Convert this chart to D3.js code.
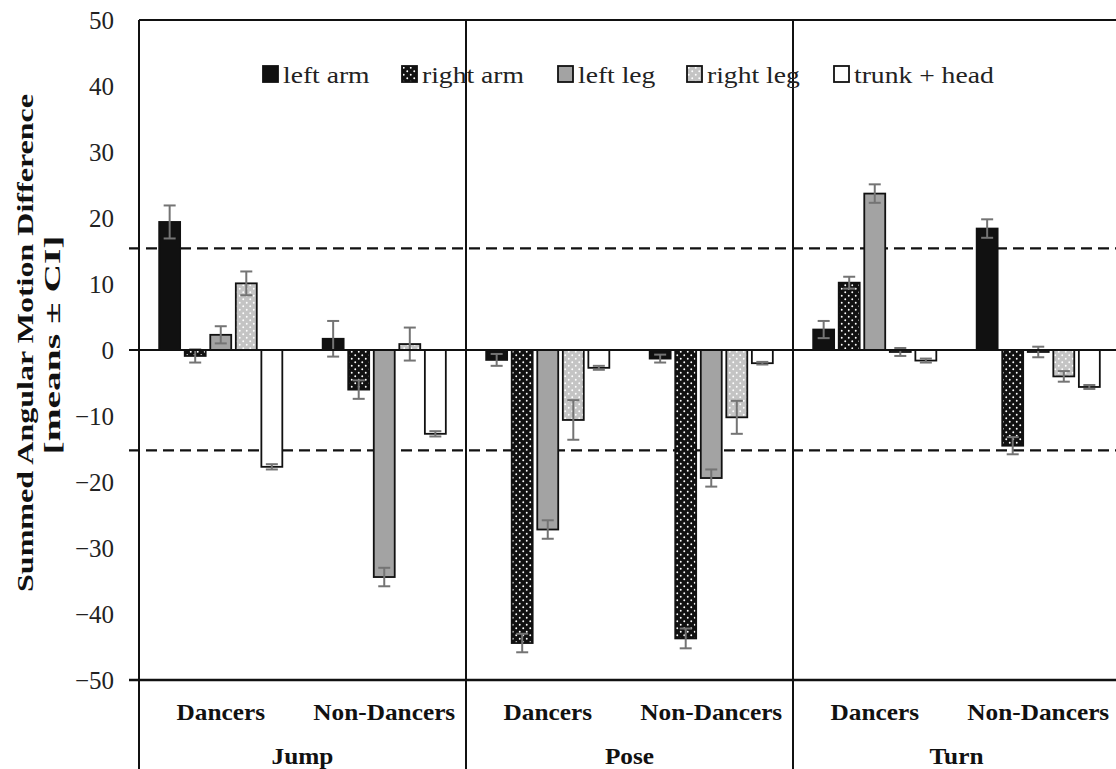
<!DOCTYPE html>
<html>
<head>
<meta charset="utf-8">
<script src="https://cdn.jsdelivr.net/npm/d3@7"></script>
<style>
  html, body { margin: 0; padding: 0; background: #fff; }
  svg { display: block; }
</style>
</head>
<body>
<svg id="chart" width="1116" height="769" font-family="Liberation Serif"></svg>
<script>
// movements and groups, in drawing order
var movements = ["Jump", "Pose", "Turn"];
var groups = ["Dancers", "Non-Dancers"];
var seriesNames = ["left arm", "right arm", "left leg", "right leg", "trunk + head"];

// values per cell: Jump-D, Jump-ND, Pose-D, Pose-ND, Turn-D, Turn-ND
var leftArm   = [19.4, 1.7, -1.5, -1.3, 3.1, 18.4];
var rightArm  = [-0.9, -6.0, -44.4, -43.7, 10.2, -14.5];
var leftLeg   = [2.3, -34.4, -27.2, -19.4, 23.7, -0.3];
var rightLeg  = [10.1, 0.9, -10.6, -10.2, -0.3, -4.0];
var trunkHead = [-17.7, -12.7, -2.7, -2.0, -1.6, -5.6];

// confidence intervals (half width)
var leftArmCI   = [2.5, 2.7, 0.9, 0.6, 1.3, 1.4];
var rightArmCI  = [1.0, 1.4, 1.4, 1.5, 0.9, 1.3];
var leftLegCI   = [1.3, 1.4, 1.4, 1.3, 1.4, 0.8];
var rightLegCI  = [1.8, 2.5, 3.0, 2.5, 0.6, 0.8];
var trunkHeadCI = [0.4, 0.4, 0.3, 0.2, 0.3, 0.3];

var thresholds = [15.4, -15.2];
var yTicks = [50, 40, 30, 20, 10, 0, -10, -20, -30, -40, -50];

(function draw() {
  var values = [leftArm, rightArm, leftLeg, rightLeg, trunkHead];
  var cis = [leftArmCI, rightArmCI, leftLegCI, rightLegCI, trunkHeadCI];
  var fontName = "Liberation Serif";

  var svg = d3.select("#chart");
  var mLeft = 139, mRight = 1120, mTop = 20, mBottom = 680;

  var y = d3.scaleLinear().domain([-50, 50]).range([mBottom, mTop]);
  var x0 = d3.scaleBand().domain(movements).range([mLeft, mRight]);
  var x1 = d3.scaleBand().domain(groups).range([0, x0.bandwidth()]);
  var x2 = d3.scaleBand().domain(seriesNames).range([0, x1.bandwidth()])
    .paddingInner(0.18).paddingOuter(0.79);

  // patterns
  var defs = svg.append("defs");
  function dots(id, bg) {
    var p = defs.append("pattern").attr("id", id)
      .attr("patternUnits", "userSpaceOnUse").attr("width", 7).attr("height", 7);
    p.append("rect").attr("width", 7).attr("height", 7).attr("fill", bg);
    p.append("circle").attr("cx", 1.75).attr("cy", 1.75).attr("r", 0.95).attr("fill", "#fff");
    p.append("circle").attr("cx", 5.25).attr("cy", 5.25).attr("r", 0.95).attr("fill", "#fff");
  }
  dots("dotsBlack", "#111");
  dots("dotsGray", "#c4c4c4");

  var fills = ["#111", "url(#dotsBlack)", "#a3a3a3", "url(#dotsGray)", "#fff"];

  // bar table
  var bars = [];
  movements.forEach(function(m, mi) {
    groups.forEach(function(g, gi) {
      var k = mi * 2 + gi;
      seriesNames.forEach(function(s, si) {
        bars.push({movement: m, group: g, series: s, si: si,
                   value: values[si][k], ci: cis[si][k]});
      });
    });
  });

  // thresholds (dashed)
  svg.append("g").selectAll("line").data(thresholds).join("line")
    .attr("x1", mLeft - 10).attr("x2", mRight)
    .attr("y1", d => y(d)).attr("y2", d => y(d))
    .attr("stroke", "#111").attr("stroke-width", 2.2)
    .attr("stroke-dasharray", "11,6");

  // bars
  var barX = d => x0(d.movement) + x1(d.group) + x2(d.series);
  svg.append("g").selectAll("rect").data(bars).join("rect")
    .attr("x", barX)
    .attr("width", x2.bandwidth())
    .attr("y", d => y(Math.max(0, d.value)))
    .attr("height", d => Math.abs(y(d.value) - y(0)))
    .attr("fill", d => fills[d.si])
    .attr("stroke", "#111").attr("stroke-width", 1.8);

  // error bars
  var eb = svg.append("g").attr("stroke", "#747474").attr("stroke-width", 2);
  var cx = d => barX(d) + x2.bandwidth() / 2;
  eb.selectAll("line.v").data(bars).join("line").attr("class", "v")
    .attr("x1", cx).attr("x2", cx)
    .attr("y1", d => y(d.value + d.ci)).attr("y2", d => y(d.value - d.ci));
  eb.selectAll("line.t").data(bars).join("line").attr("class", "t")
    .attr("x1", d => cx(d) - 6).attr("x2", d => cx(d) + 6)
    .attr("y1", d => y(d.value + d.ci)).attr("y2", d => y(d.value + d.ci));
  eb.selectAll("line.b").data(bars).join("line").attr("class", "b")
    .attr("x1", d => cx(d) - 6).attr("x2", d => cx(d) + 6)
    .attr("y1", d => y(d.value - d.ci)).attr("y2", d => y(d.value - d.ci));

  // frame
  var frame = svg.append("g").attr("stroke", "#111").attr("stroke-width", 2);
  frame.append("line").attr("x1", mLeft).attr("x2", mRight).attr("y1", mTop).attr("y2", mTop);
  frame.append("line").attr("x1", mLeft).attr("x2", mLeft).attr("y1", mTop).attr("y2", 769);
  frame.append("line").attr("x1", mLeft - 10).attr("x2", mRight).attr("y1", y(0)).attr("y2", y(0));
  frame.append("line").attr("x1", mLeft - 10).attr("x2", mRight).attr("y1", mBottom).attr("y2", mBottom)
    .attr("stroke-width", 2.5);
  frame.selectAll("line.sep").data(movements.slice(1)).join("line").attr("class", "sep")
    .attr("x1", d => x0(d)).attr("x2", d => x0(d)).attr("y1", mTop).attr("y2", 769);

  // y axis labels
  var yAxis = svg.append("g").attr("transform", "translate(" + mLeft + ",0)")
    .call(d3.axisLeft(y).tickValues(yTicks).tickSize(0).tickPadding(25))
    .attr("font-family", fontName).attr("font-size", 25);
  yAxis.select(".domain").remove();
  yAxis.selectAll("text")
    .style("font-family", fontName)
    .attr("fill", "#222");

  function stretch(sel, factor) {
    sel.each(function() {
      var w = this.getComputedTextLength();
      d3.select(this).attr("textLength", w * factor).attr("lengthAdjust", "spacingAndGlyphs");
    });
  }

  // y axis title
  svg.append("text").attr("transform", "translate(33,343) rotate(-90)")
    .attr("text-anchor", "middle").style("font-family", fontName)
    .attr("font-weight", "bold").attr("font-size", 24).attr("fill", "#111")
    .text("Summed Angular Motion Difference")
    .attr("textLength", 498).attr("lengthAdjust", "spacingAndGlyphs");
  svg.append("text").attr("transform", "translate(60,345) rotate(-90)")
    .attr("text-anchor", "middle").style("font-family", fontName)
    .attr("font-weight", "bold").attr("font-size", 24).attr("fill", "#111")
    .text("[means \u00b1 CI]")
    .attr("textLength", 219).attr("lengthAdjust", "spacingAndGlyphs");

  // category labels
  var cells = [];
  movements.forEach(m => groups.forEach(g => cells.push({m: m, g: g})));
  svg.append("g").selectAll("text").data(cells).join("text")
    .attr("x", d => x0(d.m) + x1(d.g) + x1.bandwidth() / 2)
    .attr("y", 720).attr("text-anchor", "middle")
    .style("font-family", fontName).attr("font-weight", "bold")
    .attr("font-size", 23).attr("fill", "#111")
    .text(d => d.g)
    .call(stretch, 1.1);
  svg.append("g").selectAll("text").data(movements).join("text")
    .attr("x", d => x0(d) + x0.bandwidth() / 2)
    .attr("y", 764).attr("text-anchor", "middle")
    .style("font-family", fontName).attr("font-weight", "bold")
    .attr("font-size", 23).attr("fill", "#111")
    .text(d => d)
    .call(stretch, 1.1);

  // legend
  var legendX = [263, 402, 558, 687, 834];
  var legend = svg.append("g").selectAll("g").data(seriesNames).join("g")
    .attr("transform", (d, i) => "translate(" + legendX[i] + ",66)");
  legend.append("rect").attr("width", 15).attr("height", 16)
    .attr("fill", (d, i) => fills[i]).attr("stroke", "#111").attr("stroke-width", 1.8);
  legend.append("text").attr("x", 20).attr("y", 17)
    .style("font-family", fontName).attr("font-size", 23).attr("fill", "#222")
    .text(d => d)
    .call(stretch, 1.2);
})();
</script>
</body>
</html>
